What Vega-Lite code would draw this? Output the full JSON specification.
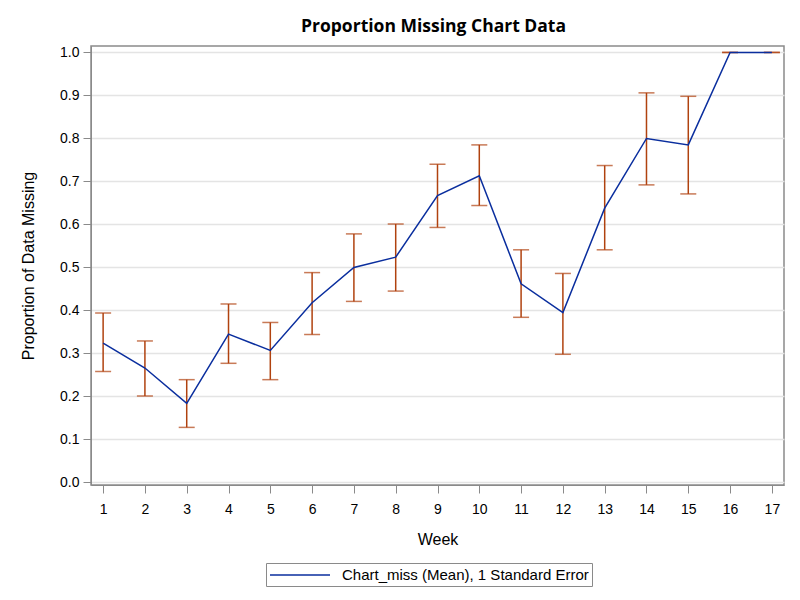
{
  "$schema": "https://vega.github.io/schema/vega-lite/v6.json",
  "width": 693,
  "height": 439,
  "autosize": "none",
  "padding": {"left": 91, "top": 46, "right": 16, "bottom": 115},
  "background": "white",
  "title": {"text": "Proportion Missing Chart Data", "fontSize": 17.5, "fontWeight": "bold", "font": "Open Sans", "color": "black", "offset": 10, "dx": -4},
  "config": {
    "view": {"stroke": "#8a8a8a", "strokeWidth": 1.5},
    "axis": {
      "labelFont": "Liberation Sans", "labelFontSize": 14, "labelColor": "black",
      "titleFont": "Liberation Sans", "titleFontSize": 16, "titleFontWeight": "normal", "titleColor": "black",
      "tickColor": "#8a8a8a", "domainColor": "#8a8a8a", "tickSize": 8
    },
    "axisX": {"grid": false, "labelPadding": 9, "titleY": 46, "titleBaseline": "top"},
    "axisY": {"grid": true, "gridColor": "#e4e4e4", "gridWidth": 1.5, "labelPadding": 4, "titleX": -63, "titleBaseline": "middle"},
    "legend": {"labelFont": "Liberation Sans", "labelFontSize": 15, "labelColor": "black"}
  },
  "data": {"values": [
    {"week": 1, "mean": 0.324, "lower": 0.258, "upper": 0.394, "series": "Chart_miss (Mean), 1 Standard Error"},
    {"week": 2, "mean": 0.266, "lower": 0.201, "upper": 0.329, "series": "Chart_miss (Mean), 1 Standard Error"},
    {"week": 3, "mean": 0.184, "lower": 0.128, "upper": 0.239, "series": "Chart_miss (Mean), 1 Standard Error"},
    {"week": 4, "mean": 0.345, "lower": 0.277, "upper": 0.415, "series": "Chart_miss (Mean), 1 Standard Error"},
    {"week": 5, "mean": 0.307, "lower": 0.239, "upper": 0.372, "series": "Chart_miss (Mean), 1 Standard Error"},
    {"week": 6, "mean": 0.418, "lower": 0.344, "upper": 0.488, "series": "Chart_miss (Mean), 1 Standard Error"},
    {"week": 7, "mean": 0.5, "lower": 0.421, "upper": 0.578, "series": "Chart_miss (Mean), 1 Standard Error"},
    {"week": 8, "mean": 0.524, "lower": 0.445, "upper": 0.601, "series": "Chart_miss (Mean), 1 Standard Error"},
    {"week": 9, "mean": 0.667, "lower": 0.593, "upper": 0.740, "series": "Chart_miss (Mean), 1 Standard Error"},
    {"week": 10, "mean": 0.713, "lower": 0.644, "upper": 0.785, "series": "Chart_miss (Mean), 1 Standard Error"},
    {"week": 11, "mean": 0.462, "lower": 0.384, "upper": 0.541, "series": "Chart_miss (Mean), 1 Standard Error"},
    {"week": 12, "mean": 0.395, "lower": 0.298, "upper": 0.486, "series": "Chart_miss (Mean), 1 Standard Error"},
    {"week": 13, "mean": 0.638, "lower": 0.541, "upper": 0.737, "series": "Chart_miss (Mean), 1 Standard Error"},
    {"week": 14, "mean": 0.8, "lower": 0.692, "upper": 0.906, "series": "Chart_miss (Mean), 1 Standard Error"},
    {"week": 15, "mean": 0.785, "lower": 0.671, "upper": 0.898, "series": "Chart_miss (Mean), 1 Standard Error"},
    {"week": 16, "mean": 1.0, "lower": 1.0, "upper": 1.0, "series": "Chart_miss (Mean), 1 Standard Error"},
    {"week": 17, "mean": 1.0, "lower": 1.0, "upper": 1.0, "series": "Chart_miss (Mean), 1 Standard Error"}
  ]},
  "encoding": {
    "x": {
      "field": "week", "type": "quantitative", "title": "Week",
      "scale": {"domain": [0.71, 17.29], "nice": false, "zero": false},
      "axis": {"values": [1,2,3,4,5,6,7,8,9,10,11,12,13,14,15,16,17], "format": "d"}
    }
  },
  "layer": [
    {
      "mark": {"type": "rule", "color": "#b0420f", "strokeWidth": 1.5},
      "encoding": {
        "y": {"field": "lower", "type": "quantitative", "title": "Proportion of Data Missing",
              "scale": {"domain": [-0.006, 1.015], "nice": false, "zero": false},
              "axis": {"values": [0,0.1,0.2,0.3,0.4,0.5,0.6,0.7,0.8,0.9,1.0], "format": ".1f"}},
        "y2": {"field": "upper"}
      }
    },
    {
      "mark": {"type": "tick", "orient": "horizontal", "color": "#b0420f", "size": 16, "thickness": 1.5},
      "encoding": {
        "y": {"field": "lower", "type": "quantitative", "title": "Proportion of Data Missing"}
      }
    },
    {
      "mark": {"type": "tick", "orient": "horizontal", "color": "#b0420f", "size": 16, "thickness": 1.5},
      "encoding": {
        "y": {"field": "upper", "type": "quantitative", "title": "Proportion of Data Missing"}
      }
    },
    {
      "mark": {"type": "line", "strokeWidth": 1.5},
      "encoding": {
        "y": {"field": "mean", "type": "quantitative", "title": "Proportion of Data Missing"},
        "color": {
          "field": "series", "type": "nominal",
          "scale": {"range": ["#0a2e9e"]},
          "legend": {
            "title": null, "orient": "none", "legendX": 175, "legendY": 517,
            "symbolType": "M-1,0H6.5", "symbolSize": 256, "symbolStrokeWidth": 1.5,
            "strokeColor": "#8a8a8a", "padding": 3, "labelOffset": 55, "labelLimit": 0
          }
        }
      }
    }
  ]
}
